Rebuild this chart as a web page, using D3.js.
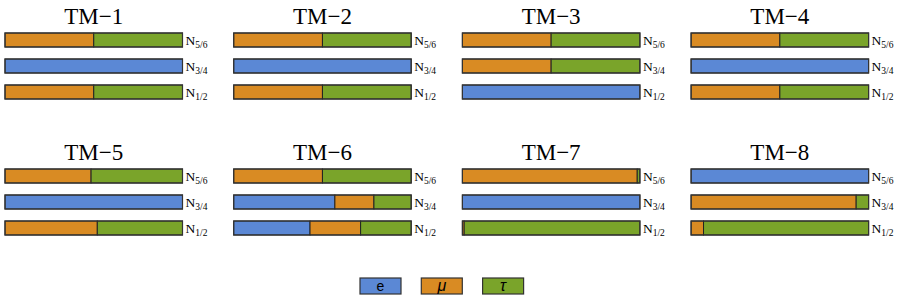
<!DOCTYPE html>
<html>
<head>
<meta charset="utf-8">
<script src="https://cdn.jsdelivr.net/npm/d3@7"></script>
<style>
  body { margin: 0; background: #fff; }
</style>
</head>
<body>
<svg id="chart" width="899" height="302"></svg>
<script>
"use strict";

// mixing models, one panel each
var models = ["TM\u22121", "TM\u22122", "TM\u22123", "TM\u22124",
              "TM\u22125", "TM\u22126", "TM\u22127", "TM\u22128"];
// rows, top to bottom
var states = ["5/6", "3/4", "1/2"];
var flavours = ["e", "\u03bc", "\u03c4"];

// flavour fractions per model, per row (N5/6, N3/4, N1/2)
var eShare = [
    [0, 1, 0], [0, 1, 0], [0, 0, 1], [0, 1, 0],
    [0, 1, 0], [0, 0.57, 0.43], [0, 1, 0], [1, 0, 0]
];
var muShare = [
    [0.5, 0, 0.5], [0.5, 0, 0.5], [0.5, 0.5, 0], [0.5, 0, 0.5],
    [0.485, 0, 0.52], [0.5, 0.22, 0.285], [0.985, 0, 0.01], [0, 0.93, 0.07]
];
var tauShare = [
    [0.5, 0, 0.5], [0.5, 0, 0.5], [0.5, 0.5, 0], [0.5, 0, 0.5],
    [0.515, 0, 0.48], [0.5, 0.21, 0.285], [0.015, 0, 0.99], [0, 0.07, 0.93]
];

var colors = ["#5b88d5", "#d98b23", "#7aa42a"];

var svg = d3.select("#chart");

var panelW = 177.5;
var panelX = d3.scaleBand().domain(d3.range(4)).range([5, 5 + 228.7 * 4]).paddingInner(0);
var panelY = [33, 169];

var x = d3.scaleLinear().domain([0, 1]).range([0, panelW]);
var y = d3.scaleBand().domain(states).range([0, 3 * 26 - 12]).paddingInner(12 / 26);
var color = d3.scaleOrdinal().domain(d3.range(3)).range(colors);

var stack = d3.stack().keys([0, 1, 2]);

models.forEach(function (name, m) {
    var g = svg.append("g")
        .attr("transform", "translate(" + panelX(m % 4) + "," + panelY[Math.floor(m / 4)] + ")");

    g.append("text")
        .attr("x", panelW / 2)
        .attr("y", -9)
        .attr("text-anchor", "middle")
        .style("font-family", "'Liberation Serif', 'Times New Roman', serif")
        .style("font-size", "23px")
        .text(name);

    var rows = states.map(function (s, r) {
        return { state: s, 0: eShare[m][r], 1: muShare[m][r], 2: tauShare[m][r] };
    });
    var layers = stack(rows);

    g.selectAll("g.layer")
        .data(layers)
        .enter().append("g")
        .attr("class", "layer")
        .attr("fill", function (d) { return color(d.key); })
        .selectAll("rect")
        .data(function (d) { return d.filter(function (p) { return p[1] - p[0] > 0; }); })
        .enter().append("rect")
        .attr("x", function (d) { return x(d[0]); })
        .attr("y", function (d) { return y(d.data.state); })
        .attr("width", function (d) { return x(d[1]) - x(d[0]); })
        .attr("height", y.bandwidth())
        .attr("stroke", "#222")
        .attr("stroke-width", 1);

    // outline around each whole bar
    g.selectAll("rect.frame")
        .data(states)
        .enter().append("rect")
        .attr("class", "frame")
        .attr("x", x(0))
        .attr("y", function (d) { return y(d); })
        .attr("width", x(1) - x(0))
        .attr("height", y.bandwidth())
        .attr("fill", "none")
        .attr("stroke", "#333")
        .attr("stroke-width", 1.2);

    var lab = g.selectAll("text.lab")
        .data(states)
        .enter().append("text")
        .attr("class", "lab")
        .attr("x", x(1) + 3)
        .attr("y", function (d) { return y(d) + 12; })
        .style("font-family", "'Liberation Serif', 'Times New Roman', serif")
        .style("font-size", "13.5px");
    lab.append("tspan").text("N");
    lab.append("tspan")
        .attr("dy", 3)
        .style("font-size", "9.5px")
        .text(function (d) { return d; });
});

// legend
var legX = d3.scalePoint().domain(flavours).range([360, 360 + 2 * 61.3]);
var leg = svg.selectAll("g.leg")
    .data(flavours)
    .enter().append("g")
    .attr("class", "leg")
    .attr("transform", function (d) { return "translate(" + legX(d) + ",278)"; });

leg.append("rect")
    .attr("width", 41)
    .attr("height", 16)
    .attr("fill", function (d, i) { return colors[i]; })
    .attr("stroke", "#333")
    .attr("stroke-width", 1.2);

leg.append("text")
    .attr("x", 20.5)
    .attr("y", 13)
    .attr("text-anchor", "middle")
    .style("font-family", "'Liberation Sans', Arial, sans-serif")
    .style("font-size", function (d, i) { return i === 0 ? "14px" : "16px"; })
    .style("font-style", function (d, i) { return i === 0 ? "normal" : "italic"; })
    .text(function (d) { return d; });
</script>
</body>
</html>
